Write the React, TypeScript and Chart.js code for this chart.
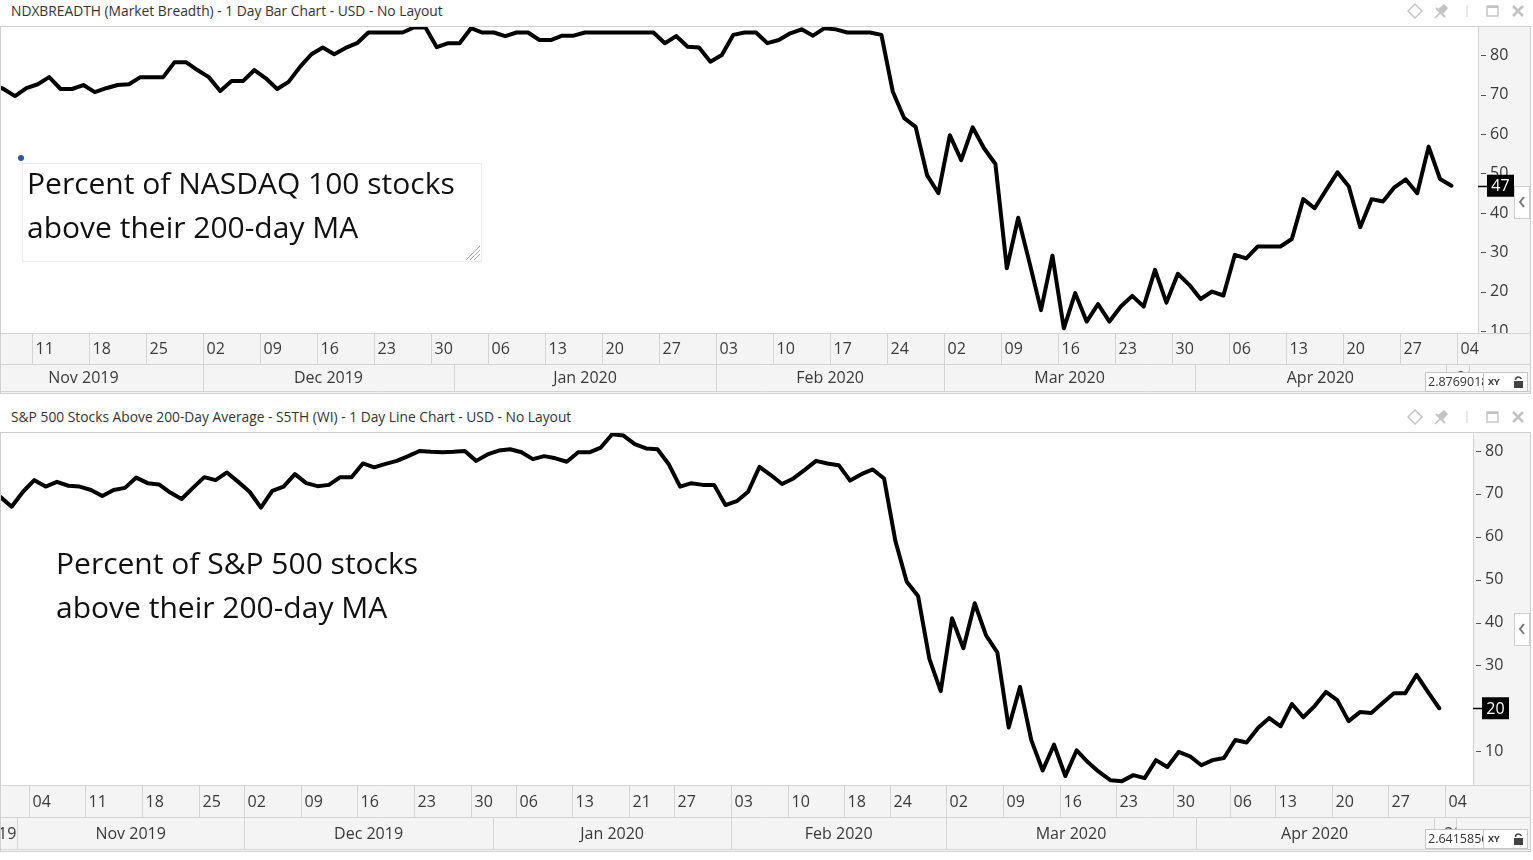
import React, { useEffect, useRef } from 'react';
import { Chart, registerables } from 'chart.js';

Chart.register(...registerables);

// ---------- categories (trading days) ----------
const NDX_FIRST_DAY = '2019-11-01';
const SPX_FIRST_DAY = '2019-10-01';
const LAST_DAY = '2020-05-04';
const NDX_HOLIDAYS: string[] = [];
const SPX_HOLIDAYS = ['2019-11-28', '2020-01-01', '2020-01-20', '2020-02-17', '2020-04-10'];
const NDX_DATA_START = '2019-11-05';
const SPX_DATA_START = '2019-10-29';

const MONTH_NAMES = ['Jan', 'Feb', 'Mar', 'Apr', 'May', 'Jun', 'Jul', 'Aug', 'Sep', 'Oct', 'Nov', 'Dec'];
const Y_TICKS = [10, 20, 30, 40, 50, 60, 70, 80];

// ---------- series values ----------
// Percent of NASDAQ 100 stocks above 200-day MA (one value per weekday from 2019-11-05)
const ndxValues = [
  72.5, 71.4, 69.6, 71.6, 72.6, 74.4, 71.4, 71.4, 72.4, 70.6,
  71.6, 72.4, 72.6, 74.4, 74.4, 74.4, 78.2, 78.2, 76.2, 74.4,
  70.9, 73.4, 73.4, 76.2, 74.1, 71.4, 73.2, 77.0, 80.2, 81.9,
  80.2, 81.8, 83.0, 85.7, 85.7, 85.7, 85.7, 87.0, 87.0, 82.0,
  83.0, 83.0, 86.8, 85.7, 85.7, 84.8, 85.7, 85.7, 83.8, 83.8,
  84.9, 84.9, 85.7, 85.7, 85.7, 85.7, 85.7, 85.7, 85.7, 83.0,
  84.8, 82.1, 81.9, 78.3, 80.0, 85.1, 85.7, 85.7, 83.0, 83.8,
  85.5, 86.5, 84.9, 86.8, 86.5, 85.7, 85.7, 85.7, 85.1, 70.7,
  64.0, 61.8, 49.6, 45.0, 59.7, 53.4, 61.7, 56.4, 52.4, 26.0,
  38.8, 27.3, 15.4, 29.2, 10.8, 19.7, 12.5, 16.9, 12.5, 16.3,
  19.0, 16.3, 25.6, 17.3, 24.6, 21.8, 18.2, 20.1, 19.1, 29.4,
  28.5, 31.5, 31.5, 31.5, 33.4, 43.5, 41.2, 45.8, 50.3, 46.7,
  36.4, 43.5, 42.9, 46.5, 48.5, 45.0, 56.8, 48.6, 46.9,
];

// Percent of S&P 500 stocks above 200-day MA (one value per trading day from 2019-10-29)
const spxValues = [
  71.0, 69.3, 67.0, 70.5, 73.2, 71.7, 72.8, 71.9, 71.7, 70.9,
  69.5, 70.9, 71.4, 73.8, 72.5, 72.2, 70.3, 68.8, 71.4, 73.9,
  73.2, 75.0, 72.8, 70.5, 66.8, 70.7, 71.7, 74.6, 72.5, 71.8,
  72.1, 73.9, 73.9, 77.1, 76.2, 77.0, 77.7, 78.8, 80.0, 79.8,
  79.7, 79.8, 80.0, 77.7, 79.2, 80.1, 80.4, 79.7, 78.1, 78.8,
  78.3, 77.5, 79.7, 79.7, 80.8, 83.9, 83.6, 81.6, 80.6, 80.4,
  76.9, 71.7, 72.5, 72.1, 72.1, 67.4, 68.3, 70.5, 76.3, 74.4,
  72.3, 73.6, 75.6, 77.7, 77.1, 76.7, 73.1, 74.6, 75.7, 73.6,
  59.0, 49.5, 46.2, 31.5, 24.0, 41.0, 34.0, 44.5, 37.0, 33.0,
  15.5, 25.0, 12.5, 5.5, 11.5, 4.2, 10.2, 7.4, 5.1, 3.2,
  3.0, 4.4, 3.7, 7.9, 6.3, 9.8, 8.8, 6.7, 7.9, 8.4,
  12.6, 12.0, 15.4, 17.7, 15.8, 21.0, 17.9, 20.5, 23.8, 21.9,
  17.0, 19.1, 18.9, 21.2, 23.5, 23.5, 27.8, 23.8, 20.0,
];

const NDX_TITLE = 'NDXBREADTH (Market Breadth) - 1 Day Bar Chart - USD - No Layout';
const SPX_TITLE = 'S&P 500 Stocks Above 200-Day Average - S5TH (WI) - 1 Day Line Chart - USD - No Layout';
const NDX_NOTE = ['Percent of NASDAQ 100 stocks', 'above their 200-day MA'];
const SPX_NOTE = ['Percent of S&P 500 stocks', 'above their 200-day MA'];
const NDX_SCALE_TEXT = '2.8769018';
const SPX_SCALE_TEXT = '2.6415856';

// ---------- helpers ----------
function tradingDays(first: string, last: string, holidays: string[]): string[] {
  const out: string[] = [];
  const d = new Date(first + 'T00:00:00Z');
  const end = new Date(last + 'T00:00:00Z');
  while (d.getTime() <= end.getTime()) {
    const wd = d.getUTCDay();
    const iso = d.toISOString().slice(0, 10);
    if (wd !== 0 && wd !== 6 && !holidays.includes(iso)) out.push(iso);
    d.setUTCDate(d.getUTCDate() + 1);
  }
  return out;
}

const ndxDates = tradingDays(NDX_FIRST_DAY, LAST_DAY, NDX_HOLIDAYS);
const spxDates = tradingDays(SPX_FIRST_DAY, LAST_DAY, SPX_HOLIDAYS);

function weekStarts(cats: string[]): number[] {
  const out: number[] = [];
  let prevWd = -1;
  cats.forEach((iso, i) => {
    const wd = new Date(iso + 'T00:00:00Z').getUTCDay();
    if (i === 0 || wd <= prevWd) out.push(i);
    prevWd = wd;
  });
  return out;
}

function monthSpans(cats: string[]) {
  const out: { first: number; last: number; label: string }[] = [];
  cats.forEach((iso, i) => {
    const key = iso.slice(0, 7);
    const cur = out[out.length - 1];
    if (!cur || cats[cur.first].slice(0, 7) !== key) {
      const m = parseInt(iso.slice(5, 7), 10) - 1;
      out.push({ first: i, last: i, label: `${MONTH_NAMES[m]} ${iso.slice(0, 4)}` });
    } else {
      cur.last = i;
    }
  });
  return out;
}

const AXIS_BG = '#f4f4f4';
const LINE = '#d4d4d4';
const TEXT = '#393939';
const FONT = "'Open Sans', 'DejaVu Sans', sans-serif";

type PanelCfg = {
  title: string;
  titleTop: number;
  canvasTop: number;
  height: number;
  plotBottom: number;
  yAxisWidth: number;
  dayRowH: number;
  monthRowH: number;
  categories: string[];
  dataStartDate: string;
  values: number[];
  yMin: number;
  yMax: number;
  xMin: number;
  xMax: number;
  scaleText: string;
  scaleBoxY: number;
  buttonY: number;
  note: string[];
  noteX: number;
  noteBaseline: number;
  noteFrame: boolean;
};

const W = 1531;

const PANELS: PanelCfg[] = [
  {
    title: NDX_TITLE, titleTop: 0, canvasTop: 26, height: 368, plotBottom: 307,
    yAxisWidth: 52, dayRowH: 31, monthRowH: 27,
    categories: ndxDates, dataStartDate: NDX_DATA_START, values: ndxValues,
    yMin: 9.6, yMax: 87.1, xMin: 2.772, xMax: 132.33,
    scaleText: NDX_SCALE_TEXT, scaleBoxY: 346, buttonY: 160,
    note: NDX_NOTE, noteX: 27, noteBaseline: 168, noteFrame: true,
  },
  {
    title: SPX_TITLE, titleTop: 406, canvasTop: 432, height: 420, plotBottom: 353,
    yAxisWidth: 57, dayRowH: 32, monthRowH: 32,
    categories: spxDates, dataStartDate: SPX_DATA_START, values: spxValues,
    yMin: 2.1, yMax: 84.2, xMin: 21.06, xMax: 150.98,
    scaleText: SPX_SCALE_TEXT, scaleBoxY: 397, buttonY: 181,
    note: SPX_NOTE, noteX: 56, noteBaseline: 142, noteFrame: false,
  },
];

function makeDecor(cfg: PanelCfg) {
  const cats = cfg.categories;
  const weeks = weekStarts(cats);
  const months = monthSpans(cats);
  return {
    id: 'panelDecor',
    beforeDraw(chart: any) {
      const { ctx, chartArea: a } = chart;
      ctx.save();
      ctx.fillStyle = '#ffffff';
      ctx.fillRect(0, 0, chart.width, chart.height);
      ctx.fillStyle = AXIS_BG;
      ctx.fillRect(a.right, 0, chart.width - a.right, a.bottom);
      ctx.restore();
    },
    afterDraw(chart: any) {
      const { ctx, chartArea: a } = chart;
      const CW = chart.width;
      const CH = chart.height;
      const xs = chart.scales.x;
      const ys = chart.scales.y;
      const rowTop = a.bottom;
      const dayBottom = rowTop + cfg.dayRowH;
      const monthBottom = dayBottom + cfg.monthRowH;
      const hline = (y: number, x1: number, x2: number) => {
        ctx.beginPath(); ctx.moveTo(x1, y); ctx.lineTo(x2, y); ctx.stroke();
      };
      const vline = (x: number, y1: number, y2: number) => {
        ctx.beginPath(); ctx.moveTo(x, y1); ctx.lineTo(x, y2); ctx.stroke();
      };
      ctx.save();
      // axis rows background
      ctx.fillStyle = AXIS_BG;
      ctx.fillRect(0, rowTop, CW, CH - rowTop);
      ctx.strokeStyle = LINE;
      ctx.lineWidth = 1;
      hline(rowTop + 0.5, 0, CW);
      hline(dayBottom + 0.5, 0, CW);
      hline(monthBottom + 0.5, 0, CW);
      vline(Math.round(a.right) + 0.5, 0, rowTop);

      // y tick marks
      ctx.strokeStyle = '#555';
      ys.ticks.forEach((t: any) => {
        const y = Math.round(ys.getPixelForValue(t.value)) + 0.5;
        if (y <= rowTop) hline(y, a.right + 3, a.right + 8);
      });

      ctx.font = `16px ${FONT}`;
      ctx.textBaseline = 'middle';
      ctx.fillStyle = TEXT;
      ctx.strokeStyle = LINE;

      // day row (week starts)
      ctx.save();
      ctx.beginPath(); ctx.rect(0, rowTop + 1, CW, cfg.dayRowH); ctx.clip();
      weeks.forEach((i) => {
        const x = Math.round(xs.getPixelForValue(i - 0.5)) + 0.5;
        vline(x, rowTop, dayBottom);
        ctx.textAlign = 'left';
        ctx.fillText(cats[i].slice(8, 10), x + 3, (rowTop + dayBottom) / 2 + 1);
      });
      ctx.restore();

      // month row
      months.forEach((m) => {
        const left = xs.getPixelForValue(m.first - 0.5);
        const right = xs.getPixelForValue(m.last + 0.5);
        const xr = Math.round(right) + 0.5;
        if (xr > 0 && xr < CW) vline(xr, dayBottom, monthBottom);
        const w = ctx.measureText(m.label).width;
        let cx = (left + right) / 2;
        if (cx - w / 2 < 0) cx = Math.min(right - 1 - w / 2, 4 + w / 2);
        ctx.save();
        ctx.beginPath();
        ctx.rect(Math.max(left, 0), dayBottom + 1, Math.min(right, CW) - Math.max(left, 0), cfg.monthRowH);
        ctx.clip();
        ctx.textAlign = 'center';
        ctx.fillStyle = TEXT;
        ctx.fillText(m.label, cx, (dayBottom + monthBottom) / 2 + 1);
        ctx.restore();
      });

      // current value marker
      const lastVal = cfg.values[cfg.values.length - 1];
      const yv = ys.getPixelForValue(lastVal);
      ctx.strokeStyle = '#000';
      ctx.lineWidth = 1.5;
      hline(Math.round(yv) + 0.5, a.right, a.right + 10);
      ctx.fillStyle = '#000';
      ctx.fillRect(a.right + 9, yv - 11, 27, 22);
      ctx.fillStyle = '#fff';
      ctx.textAlign = 'center';
      ctx.font = `16px ${FONT}`;
      ctx.fillText(String(Math.round(lastVal)), a.right + 22.5, yv + 1);

      // collapse button
      const bx = CW - 17;
      const by = cfg.buttonY;
      ctx.fillStyle = '#ffffff';
      ctx.fillRect(bx, by, 15, 32);
      ctx.strokeStyle = '#d0d0d0';
      ctx.lineWidth = 1;
      ctx.strokeRect(bx + 0.5, by + 0.5, 15, 32);
      ctx.strokeStyle = '#777';
      ctx.lineWidth = 2;
      ctx.beginPath();
      ctx.moveTo(bx + 10, by + 11); ctx.lineTo(bx + 6, by + 16); ctx.lineTo(bx + 10, by + 21);
      ctx.stroke();

      // scale box
      const sx = 1425;
      const sy = cfg.scaleBoxY;
      ctx.fillStyle = '#ffffff';
      ctx.fillRect(sx, sy, 102, 19);
      ctx.strokeStyle = '#c6c6c6';
      ctx.lineWidth = 1;
      ctx.strokeRect(sx + 0.5, sy + 0.5, 102, 19);
      vline(sx + 58.5, sy, sy + 19);
      ctx.save();
      ctx.beginPath(); ctx.rect(sx + 1, sy + 1, 57, 18); ctx.clip();
      ctx.font = `12.5px ${FONT}`;
      ctx.fillStyle = '#333';
      ctx.textAlign = 'left';
      ctx.fillText(cfg.scaleText, sx + 3, sy + 10.5);
      ctx.restore();
      ctx.font = `bold 9px ${FONT}`;
      ctx.fillStyle = '#333';
      ctx.textAlign = 'left';
      ctx.fillText('XY', sx + 63, sy + 10);
      ctx.fillStyle = '#444';
      ctx.fillRect(sx + 89, sy + 9, 9, 7);
      ctx.strokeStyle = '#444';
      ctx.lineWidth = 1.5;
      ctx.beginPath();
      ctx.arc(sx + 93.5, sy + 8, 3, Math.PI, Math.PI * 1.9);
      ctx.stroke();

      // annotation
      if (cfg.noteFrame) {
        ctx.strokeStyle = '#ededed';
        ctx.lineWidth = 1;
        ctx.strokeRect(22.5, 137.5, 459, 98);
        ctx.strokeStyle = '#b0b0b0';
        ctx.beginPath();
        ctx.moveTo(466, 234); ctx.lineTo(480, 220);
        ctx.moveTo(470, 234); ctx.lineTo(480, 224);
        ctx.moveTo(474, 234); ctx.lineTo(480, 228);
        ctx.stroke();
        ctx.fillStyle = '#2c55b0';
        ctx.beginPath();
        ctx.arc(21, 132, 3, 0, Math.PI * 2);
        ctx.fill();
      }
      ctx.fillStyle = '#111';
      ctx.font = `30px ${FONT}`;
      ctx.textAlign = 'left';
      ctx.textBaseline = 'alphabetic';
      cfg.note.forEach((line, k) => {
        ctx.fillText(line, cfg.noteX, cfg.noteBaseline + k * 44);
      });

      // outer frame
      ctx.strokeStyle = '#cfcfcf';
      ctx.lineWidth = 1;
      ctx.strokeRect(0.5, 0.5, CW - 1, CH - 1);
      ctx.restore();
    },
  };
}

function HeaderIcons({ top }: { top: number }) {
  const c = '#c3c3c3';
  return (
    <svg
      style={{ position: 'absolute', left: 1400, top, width: 133, height: 22 }}
      viewBox="0 0 133 22"
    >
      <path d="M15 4 L22 11 L15 18 L8 11 Z" fill="none" stroke={c} strokeWidth="1.4" />
      <path d="M35 18 L41 12" stroke={c} strokeWidth="1.6" />
      <path d="M38 9 L44 4 L48 8 L43 14 Z" fill={c} />
      <path d="M36 8 L45 17" stroke={c} strokeWidth="2" />
      <path d="M67 5 v12" stroke="#e8e8e8" strokeWidth="2" />
      <rect x="87" y="6" width="11" height="10" fill="none" stroke={c} strokeWidth="1.4" />
      <line x1="87" y1="7" x2="98" y2="7" stroke={c} strokeWidth="2" />
      <path d="M113 6 L123 16 M123 6 L113 16" stroke={c} strokeWidth="2.6" />
    </svg>
  );
}

function Panel({ cfg }: { cfg: PanelCfg }) {
  const ref = useRef<HTMLCanvasElement>(null);
  useEffect(() => {
    const canvas = ref.current;
    if (!canvas) return;
    const start = cfg.categories.indexOf(cfg.dataStartDate);
    const points = cfg.values.map((v, k) => ({ x: start + k, y: v }));
    const chart = new Chart(canvas, {
      type: 'line',
      data: {
        datasets: [
          {
            data: points,
            borderColor: '#000000',
            borderWidth: 4,
            pointRadius: 0,
            tension: 0,
            fill: false,
            borderJoinStyle: 'round',
            borderCapStyle: 'round',
          } as any,
        ],
      },
      options: {
        animation: false,
        responsive: false,
        maintainAspectRatio: false,
        devicePixelRatio: 1,
        events: [],
        layout: { padding: { left: 1, right: 1, top: 1, bottom: cfg.height - cfg.plotBottom } },
        plugins: { legend: { display: false }, tooltip: { enabled: false } },
        scales: {
          x: { type: 'linear', display: false, min: cfg.xMin, max: cfg.xMax },
          y: {
            type: 'linear',
            position: 'right',
            min: cfg.yMin,
            max: cfg.yMax,
            afterBuildTicks: (s: any) => {
              s.ticks = Y_TICKS.map((v) => ({ value: v }));
            },
            afterFit: (s: any) => {
              s.width = cfg.yAxisWidth;
              s.paddingTop = 0;
              s.paddingBottom = 0;
            },
            grid: { display: false, drawTicks: false },
            border: { display: false },
            ticks: {
              padding: 12,
              color: TEXT,
              autoSkip: false,
              font: { family: FONT, size: 16 },
            },
          },
        },
      } as any,
      plugins: [makeDecor(cfg) as any],
    });
    let alive = true;
    if ((document as any).fonts && (document as any).fonts.ready) {
      (document as any).fonts.ready.then(() => {
        if (alive) chart.draw();
      });
    }
    return () => {
      alive = false;
      chart.destroy();
    };
  }, [cfg]);

  return (
    <>
      <div
        style={{
          position: 'absolute',
          left: 11,
          top: cfg.titleTop,
          height: 22,
          lineHeight: '22px',
          fontFamily: FONT,
          fontSize: 13.8,
          color: '#333',
          whiteSpace: 'nowrap',
        }}
      >
        {cfg.title}
      </div>
      <HeaderIcons top={cfg.titleTop} />
      <canvas
        ref={ref}
        width={W}
        height={cfg.height}
        style={{ position: 'absolute', left: 0, top: cfg.canvasTop, width: W, height: cfg.height, display: 'block' }}
      />
    </>
  );
}

export default function App() {
  return (
    <div
      style={{
        position: 'absolute',
        left: 0,
        top: 0,
        width: 1533,
        height: 860,
        background: '#ffffff',
        overflow: 'hidden',
      }}
    >
      {PANELS.map((p, k) => (
        <Panel key={k} cfg={p} />
      ))}
    </div>
  );
}
